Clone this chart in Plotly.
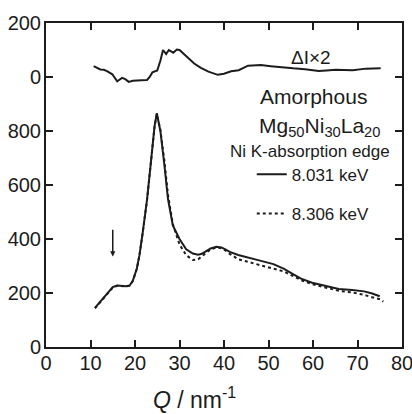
import plotly.graph_objects as go

# ---- data ----
q_solid = [11.0, 12.0, 13.0, 14.0, 15.0, 16.0, 17.0, 18.0, 18.8, 19.5, 20.4, 21.0, 21.7, 22.7,
           23.7, 24.4, 24.9, 25.7, 26.6, 27.4, 28.5, 30.0, 31.5, 33.0, 34.2, 35.0, 36.0, 37.0,
           38.3, 39.4, 40.3, 41.3, 43.2, 45.1, 48.1, 51.1, 53.4, 55.5, 57.3, 59.8, 62.8, 65.8,
           68.8, 71.5, 73.3, 75.0]
i_solid = [145, 165, 185, 205, 222, 228, 226, 225, 228, 245, 290, 340, 420, 545,
           705, 818, 866, 800, 675, 550, 450, 400, 362, 346, 342, 345, 355, 365,
           371, 369, 362, 352, 341, 332, 320, 307, 290, 270, 253, 238, 226, 215,
           211, 206, 198, 188]

q_dot = [11.0, 12.0, 13.0, 14.0, 15.0, 16.0, 17.0, 18.0, 18.8, 19.5, 20.4, 21.0, 21.7, 22.7,
         23.7, 24.4, 24.9, 25.7, 26.6, 27.4, 28.5, 30.0, 31.5, 33.0, 34.2, 35.0, 36.0, 37.0,
         38.3, 39.4, 40.3, 41.3, 43.2, 45.1, 48.1, 51.1, 53.4, 55.5, 57.3, 59.8, 62.8, 65.8,
         68.8, 71.5, 73.3, 75.2, 75.8]
i_dot = [143, 163, 183, 203, 220, 227, 225, 224, 227, 244, 289, 339, 419, 544,
         704, 817, 862, 805, 690, 565, 455, 380, 340, 322, 325, 335, 350, 362,
         368, 366, 358, 345, 325, 316, 302, 290, 280, 262, 248, 233, 220, 208,
         202, 193, 184, 176, 168]

q_diff = [10.7, 11.5, 12.2, 13.0, 13.7, 14.9, 16.0, 16.5, 17.1, 17.8, 18.6, 19.5, 20.5, 21.5,
          22.7, 23.3, 23.9, 25.0, 25.7, 26.3, 27.0, 27.6, 28.6, 29.4, 30.0, 31.0, 31.8, 33.3,
          34.8, 36.5, 38.6, 40.0, 41.6, 43.3, 45.4, 48.3, 50.5, 52.9, 55.5, 58.2, 61.3, 63.0,
          65.1, 68.9, 71.9, 75.2]
d_diff = [40, 33, 28, 27, 22, 10, -16, -10, -3, -8, -18, -14, -12, -12,
          -11, 0, 17, 24, 60, 100, 85, 100, 90, 102, 100, 85, 70, 50,
          34, 20, 8, 12, 21, 25, 42, 44, 40, 35, 32, 29, 22, 24,
          27, 25, 31, 32]
diff_offset = 1000

x_ticks = [0, 10, 20, 30, 40, 50, 60, 70, 80]
y_tickvals = [0, 200, 400, 600, 800, 1000, 1200]
y_ticktext = ["0", "200", "400", "600", "800", "0", "200"]

FONT = "Liberation Sans, Arial, sans-serif"
INK = "#1c1c1c"

fig = go.Figure()
fig.add_trace(go.Scatter(x=q_dot, y=i_dot, mode="lines", name="8.306 keV",
                         legendgroup="b", legendrank=2,
                         line=dict(color=INK, width=2, dash="dot")))
fig.add_trace(go.Scatter(x=q_solid, y=i_solid, mode="lines", name="8.031 keV",
                         legendgroup="a", legendrank=1,
                         line=dict(color=INK, width=2)))
fig.add_trace(go.Scatter(x=q_diff, y=[v + diff_offset for v in d_diff], mode="lines",
                         showlegend=False, line=dict(color=INK, width=2)))

axis_common = dict(showline=True, linecolor=INK, linewidth=2, mirror="ticks",
                   ticks="inside", ticklen=7, tickwidth=1.5, tickcolor=INK,
                   showgrid=False, zeroline=False, automargin=False,
                   ticklabeloverflow="allow",
                   tickfont=dict(family=FONT, size=20, color=INK))


def label(text, x, y, size):
    return dict(text=text, xref="paper", yref="paper", x=x, y=y,
                xanchor="center", yanchor="middle", showarrow=False,
                font=dict(family=FONT, size=size, color=INK))


fig.update_layout(
    width=412, height=414,
    margin=dict(l=46, r=10, t=23, b=67),
    paper_bgcolor="white", plot_bgcolor="white",
    font=dict(family=FONT, color=INK),
    xaxis=dict(range=[0, 80], tickvals=x_ticks, ticklabelstandoff=-3, **axis_common),
    yaxis=dict(range=[0, 1200], tickvals=y_tickvals, ticktext=y_ticktext,
               ticklabelstandoff=-1, **axis_common),
    legend=dict(x=0.578, y=0.587, xanchor="left", yanchor="top",
                bgcolor="rgba(0,0,0,0)", font=dict(family=FONT, size=17, color=INK),
                traceorder="grouped", tracegroupgap=14, itemwidth=30),
    annotations=[
        label("ΔI×2", 0.744, 0.895, 19),
        label("Amorphous", 0.75, 0.772, 21),
        label("Mg<sub>50</sub>Ni<sub>30</sub>La<sub>20</sub>", 0.768, 0.68, 21),
        label("Ni K-absorption edge", 0.742, 0.602, 17),
        label("<i>Q</i> / nm<sup>-1</sup>", 0.418, -0.156, 23),
        dict(text="", x=15, y=335, ax=15, ay=440, xref="x", yref="y", axref="x", ayref="y",
             showarrow=True, arrowhead=2, arrowsize=0.7, arrowwidth=1.5, arrowcolor=INK),
    ],
)

post = ("document.body.style.margin='0px';"
        "document.body.style.overflow='hidden';"
        "var gd=document.getElementById('{plot_id}');"
        "Plotly.relayout(gd,{width:412,height:414});")
fig.write_html("out.html", post_script=post, config={"displayModeBar": False})
